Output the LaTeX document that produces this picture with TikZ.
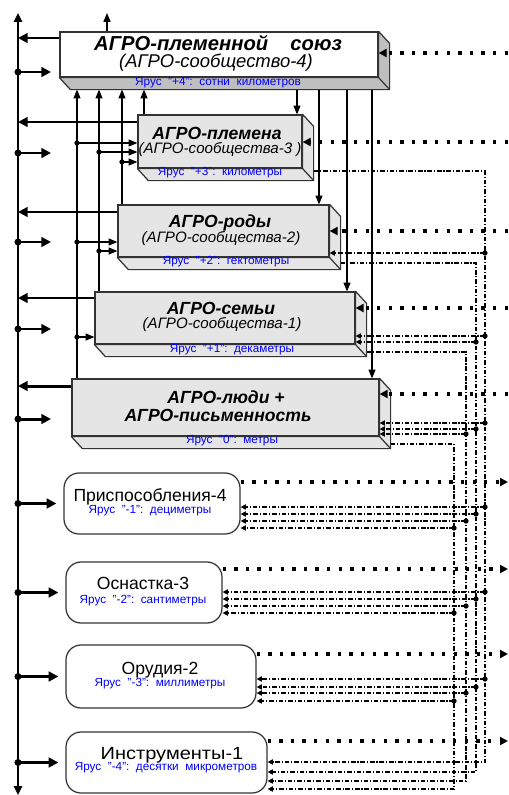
\documentclass[tikz,border=0pt]{standalone}
\usepackage{fontspec}
\usepackage{graphicx}
\setmainfont{Liberation Sans}
\usetikzlibrary{fit,calc,arrows.meta}

\begin{document}
\begin{tikzpicture}[x=0.02cm,y=-0.02cm]
        \useasboundingbox (0,0) rectangle (509,795);

        \tikzstyle{front}=[draw=black!80,line width=0.7pt,inner sep=0pt,fill=black!10]
        \tikzstyle{face}=[draw=black!80,line width=0.7pt,line join=round]
        \tikzstyle{rbox}=[draw=black!80,line width=0.7pt,inner sep=0pt,rounded corners=0.3cm]
        \tikzstyle{boxtitle}=[inner sep=0pt,font=\fontsize{10}{12}\selectfont\bfseries\itshape]
        \tikzstyle{boxsub}=[inner sep=0pt,font=\fontsize{8.6}{10}\selectfont\itshape]
        \tikzstyle{tiertxt}=[inner sep=0pt,text=blue,font=\fontsize{6.7}{8}\selectfont]
        \tikzstyle{rtxt}=[inner sep=0pt,font=\fontsize{10}{12}\selectfont]
        \tikzstyle{bus}=[line width=1.7pt,-{Triangle[length=5.5pt,width=5.5pt]}]
        \tikzstyle{link}=[line width=0.6pt,-{Triangle[length=5pt,width=4pt]}]
        \tikzstyle{feed}=[line width=1.9pt,dash pattern=on 1.9pt off 4.7pt,-{Triangle[length=4.5pt,width=4.5pt]}]
        \tikzstyle{ctrl}=[line width=0.6pt,dash pattern=on 2.6pt off 1.1pt on 0.6pt off 1.1pt,-{Triangle[length=3pt,width=3pt]}]

        % tier boxes (front faces)
        \node[front,fill=white,fit={(60,32) (378,77)}] (b1) {};
        \node[front,fit={(138,115) (302,168)}] (b2) {};
        \node[front,fit={(118,205) (329,257)}] (b3) {};
        \node[front,fit={(95,292) (355,344)}] (b4) {};
        \node[front,fit={(72,379) (379,436)}] (b5) {};

        % bottom and side faces
        \foreach \bx/\col in {b1/black!25,b2/black!10,b3/black!10,b4/black!10,b5/black!10} {
            \draw[face,fill=\col] (\bx.south west) -- ++(11,12) -- ($(\bx.south east)+(11,12)$)
                -- ($(\bx.north east)+(11,12)$) -- (\bx.north east) -- (\bx.south east) -- cycle;
            \draw[face] (\bx.south east) -- ++(11,12);
            \coordinate (s\bx) at ($(\bx.east)+(11,0)$);
        };
        \coordinate (b1d) at ($(b1.south)+(0,12)$);

        \node[boxtitle,font=\fontsize{11.5}{13}\selectfont\bfseries\itshape] (tit1) at (218,43) {АГРО-племенной\hspace{1.1em}союз};
        \node[boxsub,font=\fontsize{10.5}{12}\selectfont\itshape] (sub1) at (216,63) {(АГРО-сообщество-4)};
        \node[tiertxt] (tier1) at (218,83) {Ярус~~"+4":~~сотни~~километров};

        \node[boxtitle] (tit2) at (217,133) {АГРО-племена};
        \node[boxsub] (sub2) at (220,150) {(АГРО-сообщества-3 )};
        \node[tiertxt] (tier2) at (220,173) {Ярус~~"+3":~~километры};

        \node[boxtitle] (tit3) at (220,223) {АГРО-роды};
        \node[boxsub] (sub3) at (221,239) {(АГРО-сообщества-2)};
        \node[tiertxt] (tier3) at (226,262) {Ярус~~"+2":~~гектометры};

        \node[boxtitle] (tit4) at (221,308) {АГРО-семьи};
        \node[boxsub] (sub4) at (222,325) {(АГРО-сообщества-1)};
        \node[tiertxt] (tier4) at (232,350) {Ярус~~"+1":~~декаметры};

        \node[boxtitle] (tit5a) at (226,397) {АГРО-люди +};
        \node[boxtitle] (tit5b) at (218,415) {АГРО-письменность};
        \node[tiertxt] (tier5) at (232,441) {Ярус~~"0":~~метры};

        % lower tiers
        \node[rbox,fit={(64,473) (240,534)}] (r1) {};
        \node[rbox,fit={(66,562) (222,623)}] (r2) {};
        \node[rbox,fit={(66,645) (256,708)}] (r3) {};
        \node[rbox,fit={(66,732) (267,793)}] (r4) {};

        \node[rtxt] (rt1) at (150,497) {Приспособления-4};
        \node[tiertxt] (rtier1) at (150,511) {Ярус~~"-1":~~дециметры};
        \node[rtxt] (rt2) at (143,583) {Оснастка-3};
        \node[tiertxt] (rtier2) at (143,601) {Ярус~~"-2":~~сантиметры};
        \node[rtxt] (rt3) at (160,670) {Орудия-2};
        \node[tiertxt] (rtier3) at (160,684) {Ярус~~"-3":~~миллиметры};
        \node[rtxt] (rt4) at (172,755) {\scalebox{1.14}[1]{Инструменты-1}};
        \node[tiertxt] (rtier4) at (166,768) {Ярус~~"-4":~~десятки~~микрометров};

        % helper columns
        \coordinate (sp) at (18,13);
        \coordinate (spend) at (18,795);
        \coordinate (ra) at (51,0);
        \coordinate (edge) at (508,0);
        \coordinate (top) at (107,13);
        \coordinate (u2) at (144,0);
        \coordinate (u3) at (122,0);
        \coordinate (u4) at (99,0);
        \coordinate (u5) at (77,0);
        \coordinate (d2) at (297,0);
        \coordinate (d3) at (319,0);
        \coordinate (d4) at (347,0);
        \coordinate (d5) at (372,0);
        \coordinate (v2) at (485,0);
        \coordinate (v3) at (476,0);
        \coordinate (v4) at (466,0);
        \coordinate (v5) at (454,0);

        % main spine
        \draw[line width=1.7pt,{Triangle[length=5pt,width=4.5pt]}-{Triangle[length=5pt,width=4.5pt]}] (spend) -- (sp);

        \foreach \bx/\y in {b1/38,b2/122,b3/212,b4/298,b5/386}
            \draw[bus] (\bx.west |- 0,\y) -- (sp |- 0,\y);
        \foreach \y in {72,153,242,329,419} {
            \fill (sp |- 0,\y) circle (2pt);
            \draw[bus] (sp |- 0,\y) -- (ra |- 0,\y);
        };
        \foreach \rx in {r1,r2,r3,r4} {
            \fill (sp |- \rx.west) circle (2pt);
            \draw[bus,shorten >=0.14cm] (sp |- \rx.west) -- (\rx.west);
        };

        % up to b1, down from b1
        \draw[link] (top |- b1.north) -- (top);
        \foreach \ux/\bx in {u5/b5,u4/b4,u3/b3,u2/b2}
            \draw[link] (\ux |- \bx.north) -- (\ux |- b1d);
        \foreach \dx/\bx in {d2/b2,d3/b3,d4/b4,d5/b5}
            \draw[link] (\dx |- b1d) -- (\dx |- \bx.north);
        \foreach \ux/\bx/\y in {u5/b2/143,u4/b2/152,u3/b2/162,u5/b3/242,u4/b3/251,u5/b4/337} {
            \fill (\ux |- 0,\y) circle (1.5pt);
            \draw[link] (\ux |- 0,\y) -- (\bx.west |- 0,\y);
        };

        % dotted feeds
        \foreach \bx/\y in {b1/53,b2/142,b3/231,b4/308,b5/394}
            \draw[feed] (edge |- 0,\y) -- (\bx.east |- 0,\y);
        \foreach \rx/\y in {r1/482,r2/569,r3/654,r4/741}
            \draw[feed] (\rx.east |- 0,\y) -- (edge |- 0,\y);

        % b2 -> lower tiers
        \draw[ctrl] (sb2 |- 0,171) -| (v2 |- 0,762) -- (r4.east |- 0,762);
        \foreach \y/\tx in {253/b3,336/b4,423/b5,507/r1,592/r2,679/r3} {
            \draw[ctrl] (v2 |- 0,\y) -- (\tx.east |- 0,\y);
            \fill (v2 |- 0,\y) circle (1.5pt);
        };
        % b3 -> lower tiers
        \draw[ctrl] (sb3 |- 0,263) -| (v3 |- 0,772) -- (r4.east |- 0,772);
        \foreach \y/\tx in {342/b4,429/b5,514/r1,599/r2,687/r3} {
            \draw[ctrl] (v3 |- 0,\y) -- (\tx.east |- 0,\y);
            \fill (v3 |- 0,\y) circle (1.5pt);
        };
        % b4 -> lower tiers
        \draw[ctrl] (sb4 |- 0,352) -| (v4 |- 0,781) -- (r4.east |- 0,781);
        \foreach \y/\tx in {434/b5,521/r1,606/r2,693/r3} {
            \draw[ctrl] (v4 |- 0,\y) -- (\tx.east |- 0,\y);
            \fill (v4 |- 0,\y) circle (1.5pt);
        };
        % b5 -> lower tiers
        \draw[ctrl] (sb5 |- 0,444) -| (v5 |- 0,789) -- (r4.east |- 0,789);
        \foreach \y/\tx in {528/r1,613/r2,701/r3} {
            \draw[ctrl] (v5 |- 0,\y) -- (\tx.east |- 0,\y);
            \fill (v5 |- 0,\y) circle (1.5pt);
        };

\end{tikzpicture}
\end{document}
